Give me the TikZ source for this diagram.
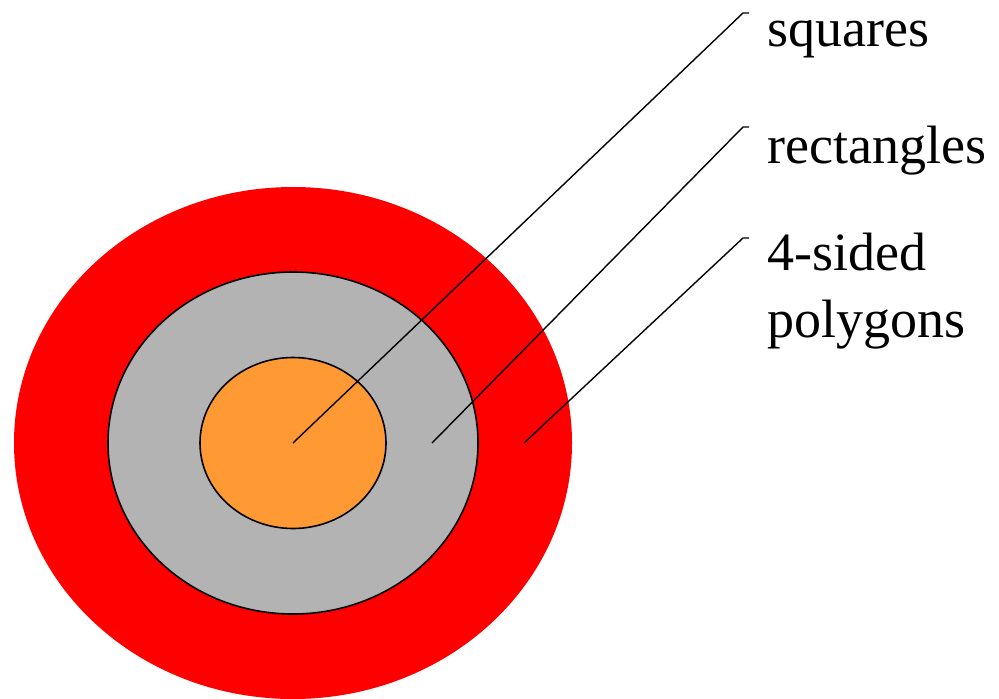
\documentclass[tikz,border=0pt]{standalone}
\usepackage{fontspec}
\setmainfont{Liberation Serif}
\usetikzlibrary{shapes.geometric}
\definecolor{ringorange}{RGB}{255,153,51}
\definecolor{ringgray}{RGB}{179,179,179}
\tikzset{
  ring/.style={ellipse, inner sep=0pt, outer sep=0pt},
  ringline/.style={draw=black, line width=0.8pt},
  leader/.style={line width=0.7pt},
  lbl/.style={anchor=base west, inner sep=0pt, align=left,
    font=\fontsize{27}{33.5}\selectfont}
}
\begin{document}
\begin{tikzpicture}[x=0.5pt,y=0.5pt]
  \useasboundingbox (0,0) rectangle (999,698);
  % nested sets
  \node[ring, fill=red, minimum width=279pt, minimum height=256pt] (outer) at (293,255) {};
  \node[ring, ringline, fill=ringgray, minimum width=185pt, minimum height=171pt] (middle) at (293,255) {};
  \node[ring, ringline, fill=ringorange, minimum width=93pt, minimum height=85.5pt] (inner) at (293,255) {};

  % labels (base of the last line)
  \node[lbl] (squares) at (767,651) {squares};
  \node[lbl] (rects) at (767,535) {rectangles};
  \node[lbl] (polys) at (767,361) {4-sided\\polygons};

  % leader lines
  \coordinate (rcstart) at (432,255);
  \coordinate (pgstart) at (524,255);
  \coordinate (sqbend) at (743,685);
  \coordinate (rcbend) at (743,571);
  \coordinate (pgbend) at (743,460);
  \draw[leader] (inner.center) -- (sqbend) -- ++(6,0) coordinate (sqend);
  \draw[leader] (rcstart) -- (rcbend) -- ++(6,0) coordinate (rcend);
  \draw[leader] (pgstart) -- (pgbend) -- ++(6,0) coordinate (pgend);
\end{tikzpicture}
\end{document}
